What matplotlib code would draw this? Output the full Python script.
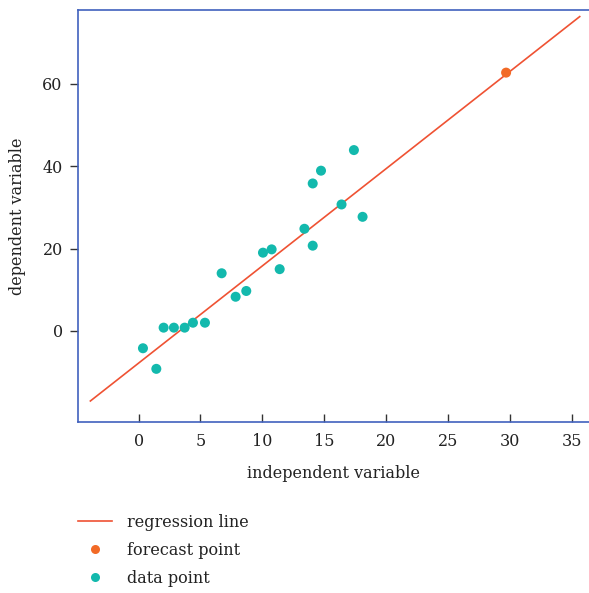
import matplotlib.pyplot as plt
from matplotlib.lines import Line2D

# data
data_x = [0.35, 1.43, 2.02, 2.85, 3.72, 4.39, 5.36, 7.84, 8.7, 6.71,
          10.05, 10.75, 11.4, 17.4, 14.74, 14.07, 16.4, 18.1, 13.4, 14.07]
data_y = [-4.2, -9.2, 0.8, 0.8, 0.8, 2.0, 2.0, 8.3, 9.7, 14.0,
          19.0, 19.8, 15.0, 43.9, 38.9, 35.8, 30.7, 27.7, 24.8, 20.7]
line_x = [-3.9, 35.65]
line_y = [-17.0, 76.3]
forecast_x = [29.7]
forecast_y = [62.7]
x_ticks = [0, 5, 10, 15, 20, 25, 30, 35]
y_ticks = [0, 20, 40, 60]

red = '#ef5233'
orange = '#f26a26'
teal = '#13b9ad'
blue = '#4161bd'

plt.rcParams['font.family'] = 'DejaVu Serif'
plt.rcParams['font.size'] = 11.5

fig = plt.figure(figsize=(5.89, 5.93), dpi=100)
ax = fig.add_axes([78 / 589, 1 - 422 / 593, 1 - 78 / 589, (422 - 10) / 593])

ax.plot(line_x, line_y, color=red, lw=1.2, zorder=2)
ax.scatter(data_x, data_y, s=52, color=teal, edgecolors='none', zorder=3)
ax.scatter(forecast_x, forecast_y, s=52, color=orange, edgecolors='none', zorder=3)

ax.set_xlim(-4.9, 36.4)
ax.set_ylim(-22.1, 77.9)
ax.set_xticks(x_ticks)
ax.set_yticks(y_ticks)

for side in ['left', 'top', 'bottom']:
    ax.spines[side].set_color(blue)
    ax.spines[side].set_linewidth(1.2)
ax.spines['right'].set_visible(False)

ax.tick_params(axis='x', direction='in', length=6, width=1, color='#333333', pad=8, labelcolor='#222222')
ax.tick_params(axis='y', direction='out', length=6, width=1, color='#333333', pad=5, labelcolor='#222222')

ax.set_xlabel('independent variable', color='#222222', labelpad=11)
ax.set_ylabel('dependent variable', color='#222222', labelpad=12)

handles = [
    Line2D([], [], color=red, lw=1.2),
    Line2D([], [], color=orange, marker='o', ls='none', markersize=6.5, markeredgewidth=0),
    Line2D([], [], color=teal, marker='o', ls='none', markersize=6.5, markeredgewidth=0),
]
labels = ['regression line', 'forecast point', 'data point']
fig.legend(handles, labels, loc='upper left', bbox_to_anchor=(78 / 589, 1 - 514 / 593),
           frameon=False, borderpad=0, borderaxespad=0, handlelength=2.1,
           handletextpad=0.95, labelspacing=0.68, labelcolor='#222222')

fig.savefig('out.png', dpi=100)
